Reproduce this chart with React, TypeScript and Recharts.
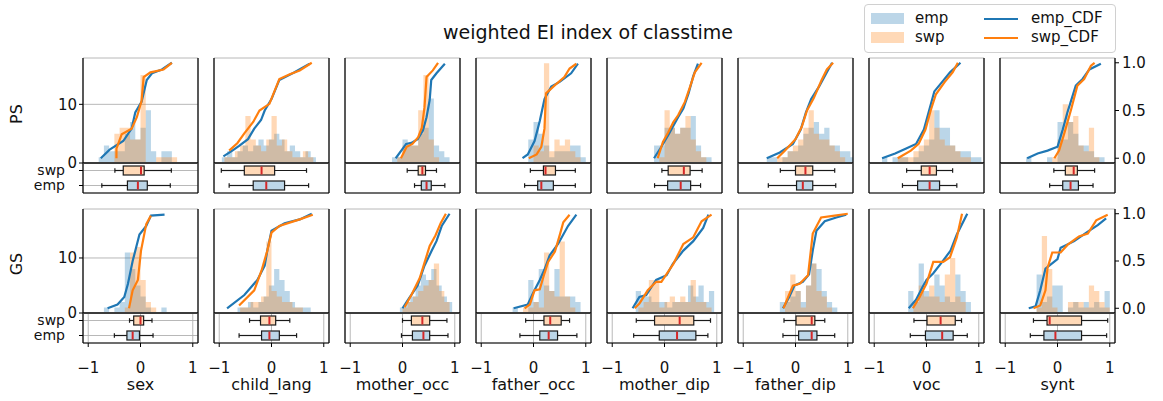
import {
  Area,
  Bar,
  BarChart,
  CartesianGrid,
  ComposedChart,
  Line,
  ReferenceLine,
  XAxis,
  YAxis,
} from "recharts";

const FEATURES = ["sex", "child_lang", "mother_occ", "father_occ", "mother_dip", "father_dip", "voc", "synt"];
const ROW_LABELS = ["PS", "GS"];
const BOX_ROWS = ["swp", "emp"];
const X_TICKS = [-1, 0, 1];
const COUNT_TICKS = [0, 10];
const CDF_TICKS = [0, 0.5, 1];
const BIN = 0.1;

// histogram: first bin edge + counts per 0.1 bin, one entry per feature
const PS_EMP_START = [-0.8, -0.95, -0.2, -0.1, -0.2, -0.55, -0.85, -0.6];
const PS_EMP_COUNTS = [
  [1, 3, 2, 2, 2, 5, 7, 4, 6, 9, 2, 0, 2, 2],
  [1, 2, 1, 2, 3, 2, 3, 4, 3, 4, 5, 4, 2, 3, 2, 1, 2, 1],
  [1, 1, 4, 3, 3, 5, 6, 11, 3, 2, 1],
  [4, 7, 5, 3, 1, 2, 2, 2, 3, 3, 1],
  [3, 3, 6, 6, 5, 6, 6, 8, 3, 1, 1],
  [1, 1, 0, 1, 2, 2, 3, 5, 6, 7, 5, 6, 3, 3, 2, 2, 1],
  [1, 0, 1, 1, 1, 0, 1, 2, 3, 4, 9, 6, 6, 3, 2, 2, 2, 1, 1],
  [1, 0, 0, 0, 1, 0, 7, 4, 7, 5, 3, 3, 2, 1, 1],
];
const PS_SWP_START = [-0.5, -0.9, -0.1, 0.0, -0.1, -0.35, -0.55, -0.1];
const PS_SWP_COUNTS = [
  [5, 6, 6, 4, 4, 15, 0, 0, 1, 1, 1, 1],
  [1, 1, 2, 3, 8, 4, 3, 2, 4, 8, 3, 4, 2, 1, 1, 2, 1],
  [1, 3, 3, 3, 9, 15, 4, 1],
  [3, 2, 17, 2, 4, 3, 4, 2, 1],
  [1, 9, 6, 5, 6, 8, 4, 2, 1],
  [1, 1, 2, 3, 4, 6, 9, 5, 4, 4, 3, 2, 1],
  [1, 1, 1, 2, 3, 4, 9, 6, 4, 3, 3, 2, 1, 1],
  [1, 4, 10, 7, 8, 3, 2, 6, 1],
];
const GS_EMP_START = [-0.7, -0.65, -0.05, -0.4, -0.55, -0.3, -0.35, -0.4];
const GS_EMP_COUNTS = [
  [1, 0, 1, 2, 11, 8, 5, 3, 1, 0, 0, 1],
  [1, 1, 2, 1, 2, 3, 5, 8, 6, 4, 2, 1, 1, 1],
  [1, 2, 3, 5, 7, 6, 8, 5, 3, 2],
  [1, 0, 0, 6, 2, 8, 5, 4, 8, 3, 3, 3, 2],
  [4, 3, 3, 2, 2, 2, 1, 2, 2, 2, 5, 3, 5, 2, 4],
  [2, 2, 3, 4, 2, 5, 9, 8, 4, 2, 1],
  [4, 2, 9, 4, 3, 7, 5, 3, 2, 7, 4, 2],
  [7, 2, 3, 5, 5, 0, 1, 2, 1, 2, 1, 2, 1, 4],
];
const GS_SWP_START = [-0.3, -0.6, 0.0, -0.2, -0.5, -0.2, -0.25, -0.4];
const GS_SWP_COUNTS = [
  [1, 11, 12, 6, 2, 1],
  [1, 1, 2, 2, 3, 13, 4, 3, 2, 2, 1, 1],
  [1, 2, 3, 4, 5, 6, 9, 4, 2],
  [1, 1, 2, 1, 11, 4, 3, 13, 3, 1],
  [1, 2, 6, 6, 1, 2, 3, 2, 3, 2, 6, 2, 2, 1],
  [4, 7, 4, 1, 5, 9, 4, 3, 1],
  [2, 5, 3, 5, 3, 2, 7, 10, 3, 2],
  [1, 14, 8, 1, 0, 0, 2, 2, 2, 1, 5, 4, 2, 1],
];

// CDF lines: [value, cumulative share]
const PS_EMP_CDF = [
  [[-0.76, 0], [-0.59, 0.09], [-0.33, 0.18], [-0.17, 0.31], [-0.1, 0.48], [0.02, 0.59], [0.12, 0.82], [0.22, 0.89], [0.41, 0.93], [0.6, 1]],
  [[-0.92, 0.02], [-0.75, 0.08], [-0.62, 0.13], [-0.45, 0.2], [-0.33, 0.31], [-0.2, 0.4], [-0.13, 0.5], [0, 0.62], [0.15, 0.82], [0.3, 0.86], [0.44, 0.9], [0.73, 0.99]],
  [[-0.13, 0], [0.07, 0.15], [0.17, 0.16], [0.29, 0.2], [0.39, 0.29], [0.46, 0.43], [0.52, 0.61], [0.55, 0.82], [0.65, 0.89], [0.81, 0.99]],
  [[-0.21, 0], [-0.11, 0.04], [0.02, 0.18], [0.12, 0.39], [0.21, 0.62], [0.34, 0.75], [0.5, 0.8], [0.72, 0.89], [0.85, 0.99]],
  [[-0.2, 0], [-0.06, 0.12], [0.07, 0.24], [0.17, 0.34], [0.26, 0.43], [0.36, 0.52], [0.46, 0.68], [0.55, 0.86], [0.64, 0.99]],
  [[-0.55, 0], [-0.3, 0.06], [-0.05, 0.15], [0.1, 0.3], [0.2, 0.48], [0.3, 0.62], [0.45, 0.75], [0.6, 0.9], [0.7, 1]],
  [[-0.85, 0], [-0.6, 0.05], [-0.4, 0.1], [-0.2, 0.15], [-0.05, 0.3], [0.05, 0.5], [0.15, 0.7], [0.3, 0.8], [0.45, 0.9], [0.65, 1]],
  [[-0.58, 0], [-0.38, 0.05], [-0.19, 0.08], [0, 0.12], [0.1, 0.3], [0.19, 0.48], [0.35, 0.76], [0.48, 0.83], [0.61, 0.93], [0.83, 0.99]],
];
const PS_SWP_CDF = [
  [[-0.46, 0], [-0.46, 0.1], [-0.36, 0.25], [-0.17, 0.31], [-0.07, 0.43], [0.02, 0.6], [0.06, 0.85], [0.19, 0.9], [0.44, 0.93], [0.6, 1]],
  [[-0.81, 0.08], [-0.65, 0.16], [-0.52, 0.26], [-0.35, 0.38], [-0.23, 0.5], [-0.04, 0.57], [0.15, 0.83], [0.35, 0.88], [0.54, 0.92], [0.77, 1]],
  [[-0.03, 0], [0.08, 0.12], [0.19, 0.15], [0.3, 0.22], [0.37, 0.32], [0.42, 0.53], [0.46, 0.85], [0.58, 0.92], [0.68, 1]],
  [[-0.09, 0], [0.06, 0.04], [0.15, 0.12], [0.21, 0.31], [0.24, 0.68], [0.4, 0.76], [0.59, 0.85], [0.69, 0.94], [0.82, 0.99]],
  [[-0.13, 0], [-0.03, 0.17], [0.07, 0.27], [0.17, 0.38], [0.26, 0.45], [0.39, 0.59], [0.49, 0.75], [0.58, 0.9], [0.71, 1]],
  [[-0.35, 0], [-0.2, 0.08], [0, 0.2], [0.12, 0.33], [0.22, 0.5], [0.35, 0.63], [0.5, 0.82], [0.6, 0.93], [0.72, 1]],
  [[-0.55, 0], [-0.3, 0.08], [-0.15, 0.15], [-0.02, 0.3], [0.08, 0.5], [0.18, 0.67], [0.35, 0.8], [0.5, 0.9], [0.6, 1]],
  [[-0.06, 0], [0.03, 0.08], [0.13, 0.26], [0.26, 0.51], [0.38, 0.76], [0.51, 0.83], [0.64, 0.97], [0.71, 1]],
];
const GS_EMP_CDF = [
  [[-0.63, 0], [-0.44, 0.04], [-0.31, 0.12], [-0.24, 0.26], [-0.15, 0.5], [-0.02, 0.78], [0.11, 0.87], [0.2, 0.98], [0.46, 0.99]],
  [[-0.85, 0], [-0.52, 0.14], [-0.27, 0.3], [-0.13, 0.45], [-0.08, 0.61], [0, 0.82], [0.25, 0.9], [0.54, 0.94], [0.77, 1]],
  [[0, 0], [0.13, 0.11], [0.29, 0.24], [0.42, 0.45], [0.56, 0.61], [0.65, 0.71], [0.75, 0.87], [0.9, 1]],
  [[-0.38, 0], [-0.11, 0.04], [-0.01, 0.16], [0.12, 0.3], [0.21, 0.41], [0.31, 0.56], [0.47, 0.68], [0.66, 0.87], [0.82, 0.99]],
  [[-0.61, 0], [-0.48, 0.12], [-0.35, 0.14], [-0.16, 0.3], [0.04, 0.35], [0.16, 0.47], [0.36, 0.61], [0.55, 0.71], [0.74, 0.85], [0.84, 0.99]],
  [[-0.24, 0], [-0.12, 0.12], [-0.02, 0.24], [0.14, 0.28], [0.26, 0.36], [0.33, 0.61], [0.4, 0.82], [0.56, 0.92], [0.78, 0.96], [0.97, 0.99]],
  [[-0.34, 0], [-0.2, 0.09], [-0.07, 0.23], [0, 0.3], [0.13, 0.37], [0.3, 0.49], [0.46, 0.61], [0.58, 0.78], [0.78, 1]],
  [[-0.55, 0], [-0.42, 0.02], [-0.33, 0.19], [-0.23, 0.42], [0, 0.52], [0.06, 0.64], [0.32, 0.71], [0.58, 0.81], [0.77, 0.88], [0.93, 0.95]],
];
const GS_SWP_CDF = [
  [[-0.22, 0], [-0.15, 0.19], [-0.05, 0.3], [0.01, 0.61], [0.11, 0.89], [0.2, 0.98]],
  [[-0.62, 0.03], [-0.33, 0.19], [-0.19, 0.4], [-0.08, 0.61], [0, 0.8], [0.15, 0.87], [0.54, 0.94], [0.79, 0.99]],
  [[0.04, 0.01], [0.17, 0.14], [0.33, 0.32], [0.42, 0.48], [0.52, 0.66], [0.63, 0.77], [0.73, 0.9], [0.83, 1]],
  [[-0.17, 0], [-0.07, 0.04], [0.02, 0.19], [0.12, 0.2], [0.21, 0.37], [0.28, 0.49], [0.41, 0.6], [0.51, 0.79], [0.57, 0.91], [0.69, 0.99]],
  [[-0.57, 0], [-0.48, 0.05], [-0.32, 0.19], [-0.16, 0.28], [-0.06, 0.28], [0.17, 0.47], [0.36, 0.68], [0.55, 0.75], [0.71, 0.92], [0.9, 0.99]],
  [[-0.23, 0], [-0.14, 0.12], [-0.05, 0.24], [0.08, 0.26], [0.24, 0.35], [0.33, 0.79], [0.49, 0.96], [0.75, 0.98], [1.0, 1.0]],
  [[-0.26, 0], [-0.13, 0.12], [0, 0.26], [0.13, 0.49], [0.32, 0.49], [0.45, 0.54], [0.58, 0.75], [0.68, 1]],
  [[-0.46, 0], [-0.33, 0.03], [-0.23, 0.19], [-0.19, 0.43], [-0.1, 0.59], [0.06, 0.59], [0.19, 0.67], [0.41, 0.76], [0.58, 0.79], [0.74, 0.93], [0.96, 0.99]],
];

// boxplots: [min, q1, median, q3, max]
const PS_SWP_BOX = [
  [-0.49, -0.33, 0.01, 0.07, 0.59], [-0.96, -0.52, -0.19, 0.06, 0.67], [0.09, 0.3, 0.38, 0.44, 0.65], [-0.06, 0.19, 0.23, 0.42, 0.8],
  [-0.05, 0.07, 0.37, 0.49, 0.72], [-0.29, 0, 0.19, 0.33, 0.75], [-0.38, -0.1, 0.06, 0.19, 0.5], [-0.07, 0.15, 0.31, 0.38, 0.71],
];
const PS_EMP_BOX = [
  [-0.74, -0.25, -0.05, 0.13, 0.57], [-0.81, -0.35, -0.1, 0.25, 0.71], [0.23, 0.36, 0.46, 0.55, 0.81], [-0.17, 0.08, 0.15, 0.38, 0.8],
  [-0.19, 0.06, 0.31, 0.5, 0.69], [-0.52, 0.02, 0.14, 0.33, 0.77], [-0.46, -0.17, 0.06, 0.25, 0.58], [-0.15, 0.1, 0.25, 0.4, 0.68],
];
const GS_SWP_BOX = [
  [-0.21, -0.13, 0, 0.06, 0.22], [-0.42, -0.21, -0.04, 0.08, 0.35], [0, 0.17, 0.38, 0.52, 0.85], [-0.15, 0.2, 0.32, 0.53, 0.69],
  [-0.54, -0.19, 0.29, 0.56, 0.88], [-0.22, 0.01, 0.31, 0.37, 0.56], [-0.24, 0.01, 0.27, 0.55, 0.67], [-0.46, -0.2, -0.15, 0.46, 0.96],
];
const GS_EMP_BOX = [
  [-0.5, -0.26, -0.15, -0.02, 0.24], [-0.62, -0.19, -0.04, 0.15, 0.48], [-0.02, 0.19, 0.4, 0.52, 0.87], [-0.26, 0.12, 0.29, 0.46, 0.83],
  [-0.59, -0.1, 0.24, 0.6, 0.83], [-0.24, 0.06, 0.31, 0.41, 0.75], [-0.31, -0.02, 0.3, 0.51, 0.78], [-0.52, -0.26, -0.04, 0.46, 0.94],
];

const EMP = "#1f77b4";
const SWP = "#ff7f0e";
const EMP_LIGHT = "#bcd6e8";
const SWP_LIGHT = "#ffd9b7";
const MEDIAN = "#d62728";
const GRID = "#b0b0b0";
const INK = "#111";
const FONT = "'DejaVu Sans', sans-serif";

const LW = 60;
const RW = 45;
const PW = 115;
const PITCH = 131;
const X0 = 83;
const PAD = 10;
const BOX_PAD = 8;
const X_DOMAIN = [-1.1, 1.1];

const ROWS = [
  {
    top: 58, zero: 163, bottom: 193, countMax: 17.9, xh: 20,
    empStart: PS_EMP_START, empCounts: PS_EMP_COUNTS, swpStart: PS_SWP_START, swpCounts: PS_SWP_COUNTS,
    empCdf: PS_EMP_CDF, swpCdf: PS_SWP_CDF, empBox: PS_EMP_BOX, swpBox: PS_SWP_BOX,
  },
  {
    top: 209, zero: 313, bottom: 343, countMax: 18.9, xh: 56,
    empStart: GS_EMP_START, empCounts: GS_EMP_COUNTS, swpStart: GS_SWP_START, swpCounts: GS_SWP_COUNTS,
    empCdf: GS_EMP_CDF, swpCdf: GS_SWP_CDF, empBox: GS_EMP_BOX, swpBox: GS_SWP_BOX,
  },
];

const TICK = { fill: INK, fontSize: 15 };

const fmtX = (v: number) => (v < 0 ? `\u2212${-v}` : `${v}`);

function histPoints(start: number, counts: number[]) {
  const pts = counts.map((n, i) => ({ x: +(start + i * BIN).toFixed(3), n }));
  pts.push({ x: +(start + counts.length * BIN).toFixed(3), n: 0 });
  return pts;
}

const cdfPoints = (pts: number[][]) => pts.map(([x, p]) => ({ x, p }));

/* eslint-disable @typescript-eslint/no-explicit-any */
function BoxShape(props: any) {
  const { x, y, width, height, payload } = props;
  const [lo, q1, med, q3, hi] = payload.s;
  const k = width / (hi - lo);
  const px = (v: number) => x + (v - lo) * k;
  const cy = y + height / 2;
  const fill = payload.name === "swp" ? SWP_LIGHT : EMP_LIGHT;
  const edge = { stroke: "#1a1a1a", strokeWidth: 1.2 };
  return (
    <g>
      <line x1={px(lo)} x2={px(q1)} y1={cy} y2={cy} {...edge} />
      <line x1={px(q3)} x2={px(hi)} y1={cy} y2={cy} {...edge} />
      <line x1={px(lo)} x2={px(lo)} y1={cy - 2.3} y2={cy + 2.3} {...edge} />
      <line x1={px(hi)} x2={px(hi)} y1={cy - 2.3} y2={cy + 2.3} {...edge} />
      <rect x={px(q1)} y={y} width={px(q3) - px(q1)} height={height} fill={fill} {...edge} />
      <line x1={px(med)} x2={px(med)} y1={y + 0.6} y2={y + height - 0.6} stroke={MEDIAN} strokeWidth={2} />
    </g>
  );
}
/* eslint-enable @typescript-eslint/no-explicit-any */

function HistPanel({ row, col }: { row: number; col: number }) {
  const r = ROWS[row];
  const h = r.zero - r.top;
  return (
    <div style={{ position: "absolute", left: X0 + col * PITCH - LW, top: r.top - PAD }}>
      <ComposedChart
        width={LW + PW + RW}
        height={h + 2 * PAD}
        margin={{ top: PAD, right: 0, bottom: PAD, left: 0 }}
      >
        <CartesianGrid stroke={GRID} strokeWidth={0.9} yAxisId="cnt" />
        <XAxis
          type="number"
          dataKey="x"
          domain={X_DOMAIN}
          ticks={X_TICKS}
          allowDataOverflow
          height={0}
          tick={false}
          tickLine={false}
          axisLine={false}
        />
        <XAxis
          xAxisId="top"
          orientation="top"
          type="number"
          dataKey="x"
          domain={X_DOMAIN}
          allowDataOverflow
          height={0}
          tick={false}
          tickLine={false}
          axisLine={{ stroke: "#000", strokeWidth: 1.2 }}
        />
        <YAxis
          yAxisId="cnt"
          width={LW}
          domain={[0, r.countMax]}
          ticks={COUNT_TICKS}
          allowDataOverflow
          interval={0}
          tick={col === 0 ? TICK : false}
          tickLine={col === 0 ? { stroke: "#000" } : false}
          tickSize={4}
          tickMargin={2}
          axisLine={{ stroke: "#000", strokeWidth: 1.2 }}
        />
        <YAxis
          yAxisId="cdf"
          orientation="right"
          width={RW}
          domain={[-0.05, 1.05]}
          ticks={CDF_TICKS}
          allowDataOverflow
          interval={0}
          tickFormatter={(v: number) => v.toFixed(1)}
          tick={col === FEATURES.length - 1 ? TICK : false}
          tickLine={{ stroke: "#000" }}
          tickSize={4}
          tickMargin={3}
          axisLine={{ stroke: "#000", strokeWidth: 1.2 }}
        />
        <Area
          yAxisId="cnt"
          data={histPoints(r.empStart[col], r.empCounts[col])}
          dataKey="n"
          type="stepAfter"
          stroke="none"
          fill={EMP}
          fillOpacity={0.3}
          isAnimationActive={false}
        />
        <Area
          yAxisId="cnt"
          data={histPoints(r.swpStart[col], r.swpCounts[col])}
          dataKey="n"
          type="stepAfter"
          stroke="none"
          fill={SWP}
          fillOpacity={0.3}
          isAnimationActive={false}
        />
        <Line
          yAxisId="cdf"
          data={cdfPoints(r.empCdf[col])}
          dataKey="p"
          stroke={EMP}
          strokeWidth={2.2}
          dot={false}
          isAnimationActive={false}
        />
        <Line
          yAxisId="cdf"
          data={cdfPoints(r.swpCdf[col])}
          dataKey="p"
          stroke={SWP}
          strokeWidth={2.2}
          dot={false}
          isAnimationActive={false}
        />
        <ReferenceLine yAxisId="cnt" y={0} stroke="#3c3c3c" strokeWidth={2} ifOverflow="visible" />
      </ComposedChart>
    </div>
  );
}

function BoxPanel({ row, col }: { row: number; col: number }) {
  const r = ROWS[row];
  const data = [
    { name: BOX_ROWS[0], s: r.swpBox[col] },
    { name: BOX_ROWS[1], s: r.empBox[col] },
  ];
  return (
    <div style={{ position: "absolute", left: X0 + col * PITCH - LW, top: r.zero - BOX_PAD }}>
      <BarChart
        layout="vertical"
        data={data}
        width={LW + PW + RW}
        height={r.bottom - r.zero + r.xh + BOX_PAD}
        margin={{ top: BOX_PAD, right: RW, bottom: 0, left: 0 }}
      >
        <CartesianGrid stroke={GRID} strokeWidth={0.9} />
        <XAxis
          type="number"
          domain={X_DOMAIN}
          ticks={X_TICKS}
          allowDataOverflow
          interval={0}
          height={r.xh}
          tickSize={4}
          tickMargin={15}
          tickFormatter={fmtX}
          tick={row === 1 ? TICK : false}
          tickLine={{ stroke: "#000" }}
          axisLine={{ stroke: "#000", strokeWidth: 1.2 }}
          label={
            row === 1
              ? { value: FEATURES[col], position: "insideBottom", offset: 9, fill: INK, fontSize: 16 }
              : undefined
          }
        />
        <YAxis
          type="category"
          dataKey="name"
          width={LW}
          interval={0}
          tickSize={4}
          tickMargin={14}
          tick={col === 0 ? { fill: INK, fontSize: 14 } : false}
          tickLine={{ stroke: "#000" }}
          axisLine={{ stroke: "#000", strokeWidth: 1.2 }}
        />
        <ReferenceLine x={1.1} stroke="#000" strokeWidth={1.2} ifOverflow="visible" />
        <Bar
          dataKey={(d: { s: number[] }) => [d.s[0], d.s[4]]}
          barSize={9}
          shape={BoxShape}
          isAnimationActive={false}
        />
      </BarChart>
    </div>
  );
}

function LegendBox() {
  const item = { position: "absolute" as const, fontSize: 15, color: INK, lineHeight: "18px" };
  return (
    <div
      style={{
        position: "absolute",
        left: 864,
        top: 4,
        width: 250,
        height: 47,
        border: "1px solid #d0d0d0",
        borderRadius: 4,
        background: "rgba(255,255,255,0.8)",
      }}
    >
      <div style={{ position: "absolute", left: 6, top: 8, width: 33, height: 11, background: EMP_LIGHT }} />
      <div style={{ position: "absolute", left: 6, top: 27, width: 33, height: 11, background: SWP_LIGHT }} />
      <div style={{ position: "absolute", left: 119, top: 12.5, width: 34, height: 2, background: EMP }} />
      <div style={{ position: "absolute", left: 119, top: 31.5, width: 34, height: 2, background: SWP }} />
      <div style={{ ...item, left: 50, top: 4 }}>emp</div>
      <div style={{ ...item, left: 50, top: 23 }}>swp</div>
      <div style={{ ...item, left: 166, top: 4 }}>emp_CDF</div>
      <div style={{ ...item, left: 166, top: 23 }}>swp_CDF</div>
    </div>
  );
}

export default function App() {
  return (
    <div
      style={{
        position: "absolute",
        left: 0,
        top: 0,
        width: 1163,
        height: 401,
        background: "#fff",
        fontFamily: FONT,
        color: INK,
        overflow: "hidden",
      }}
    >
      <div
        style={{
          position: "absolute",
          left: 588,
          top: 32,
          transform: "translate(-50%, -50%)",
          fontSize: 19,
          whiteSpace: "nowrap",
        }}
      >
        weighted EI index of classtime
      </div>
      {ROWS.map((r, row) => (
        <div
          key={`lab-${row}`}
          style={{
            position: "absolute",
            left: 16,
            top: (r.top + r.zero) / 2 + 3,
            transform: "translate(-50%, -50%) rotate(-90deg)",
            fontSize: 16,
          }}
        >
          {ROW_LABELS[row]}
        </div>
      ))}
      {ROWS.map((_, row) =>
        FEATURES.map((f, col) => (
          <div key={`${row}-${f}`}>
            <BoxPanel row={row} col={col} />
            <HistPanel row={row} col={col} />
          </div>
        ))
      )}
      <LegendBox />
    </div>
  );
}
